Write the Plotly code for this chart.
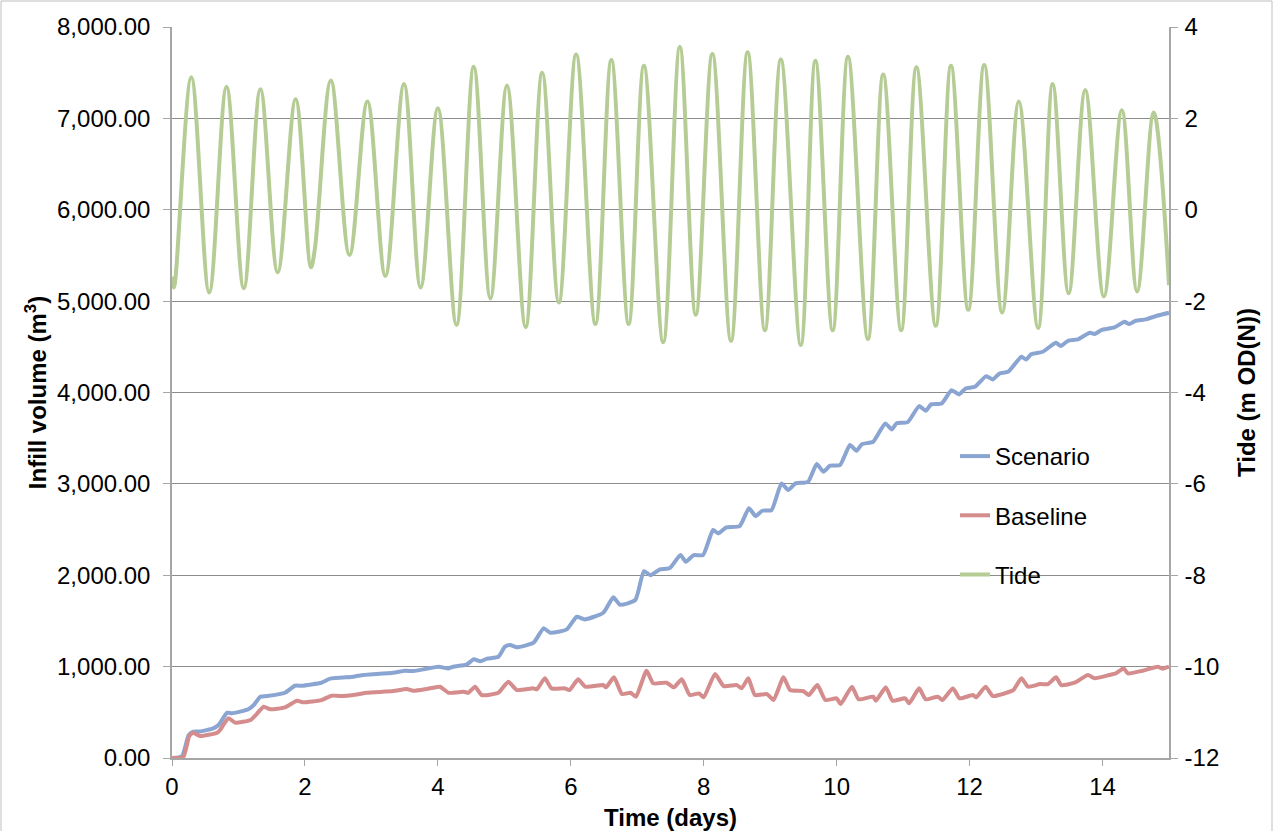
import plotly.graph_objects as go

# ---------------- data ----------------
tide_t = [0, 0.03, 0.29, 0.56, 0.82, 1.08, 1.33, 1.59, 1.86, 2.09, 2.15, 2.39, 2.67, 2.94,
          3.21, 3.49, 3.74, 4.00, 4.28, 4.54, 4.79, 5.04, 5.32, 5.57, 5.82, 6.08, 6.37,
          6.61, 6.87, 7.10, 7.39, 7.64, 7.88, 8.13, 8.41, 8.66, 8.92, 9.16, 9.46, 9.68,
          9.94, 10.17, 10.47, 10.70, 10.97, 11.20, 11.49, 11.72, 11.98, 12.22, 12.49,
          12.74, 13.03, 13.25, 13.49, 13.74, 14.02, 14.29, 14.52, 14.77, 15.0]
tide_v = [-1.46, -1.70, 2.90, -1.81, 2.69, -1.72, 2.64, -1.37, 2.42, -1.26, -0.85, 2.83,
          -0.99, 2.37, -1.45, 2.75, -1.70, 2.22, -2.52, 3.13, -1.94, 2.72, -2.57, 3.00,
          -2.03, 3.40, -2.50, 3.28, -2.50, 3.15, -2.90, 3.56, -2.30, 3.41, -2.87, 3.45,
          -2.64, 3.29, -2.96, 3.26, -2.64, 3.35, -2.83, 2.96, -2.64, 3.12, -2.54, 3.15,
          -2.19, 3.17, -2.25, 2.37, -2.59, 2.75, -1.83, 2.62, -1.90, 2.18, -1.79, 2.13,
          -1.65]

scenario_t = [0, 0.15, 0.25, 0.32, 0.42, 0.62, 0.70, 0.83, 0.90, 1.15, 1.23, 1.33, 1.43,
              1.70, 1.85, 1.95, 2.25, 2.38, 2.73, 2.83, 3.33, 3.51, 3.63, 3.83, 4.01, 4.16,
              4.23, 4.43, 4.54, 4.64, 4.74, 4.91, 5.01, 5.09, 5.19, 5.44, 5.59, 5.69, 5.94,
              6.09, 6.21, 6.49, 6.64, 6.74, 6.97, 7.10, 7.20, 7.34, 7.49, 7.65, 7.73, 7.85,
              7.99, 8.14, 8.22, 8.34, 8.54, 8.68, 8.78, 8.88, 9.02, 9.17, 9.27, 9.38, 9.57,
              9.70, 9.80, 9.90, 10.05, 10.20, 10.30, 10.38, 10.55, 10.73, 10.83, 10.90,
              11.07, 11.24, 11.34, 11.42, 11.58, 11.73, 11.84, 11.94, 12.08, 12.25, 12.35,
              12.45, 12.58, 12.78, 12.85, 12.93, 13.10, 13.30, 13.37, 13.48, 13.63, 13.81,
              13.88, 13.98, 14.18, 14.33, 14.40, 14.50, 14.65, 14.82, 15.0]
scenario_v = [0, 20, 250, 288, 290, 325, 361, 496, 490, 533, 580, 671, 678, 714, 791, 791,
              824, 868, 890, 904, 933, 955, 951, 977, 999, 980, 999, 1021, 1080, 1058, 1087,
              1108, 1218, 1236, 1211, 1262, 1419, 1371, 1408, 1546, 1517, 1590, 1758, 1677,
              1729, 2045, 2000, 2064, 2079, 2221, 2148, 2221, 2221, 2495, 2458, 2524, 2538,
              2732, 2648, 2706, 2713, 3005, 2932, 3005, 3023, 3217, 3133, 3199, 3206, 3425,
              3363, 3435, 3461, 3662, 3596, 3662, 3676, 3851, 3800, 3870, 3880, 4026, 3979,
              4044, 4063, 4179, 4143, 4208, 4226, 4391, 4361, 4420, 4446, 4544, 4508, 4566,
              4581, 4654, 4639, 4683, 4712, 4774, 4749, 4785, 4800, 4840, 4872]

baseline_t = [0, 0.17, 0.26, 0.32, 0.42, 0.68, 0.72, 0.85, 0.95, 1.18, 1.26, 1.38, 1.48,
              1.70, 1.88, 1.98, 2.25, 2.40, 2.53, 2.78, 2.93, 3.33, 3.53, 3.63, 3.83, 4.03,
              4.16, 4.39, 4.46, 4.56, 4.66, 4.91, 5.06, 5.19, 5.44, 5.49, 5.61, 5.71, 5.91,
              5.98, 6.11, 6.22, 6.49, 6.53, 6.65, 6.77, 6.90, 6.98, 7.14, 7.24, 7.44, 7.55,
              7.67, 7.79, 7.93, 8.00, 8.17, 8.30, 8.50, 8.57, 8.67, 8.77, 8.95, 9.05, 9.20,
              9.30, 9.50, 9.58, 9.71, 9.83, 10.00, 10.06, 10.23, 10.33, 10.55, 10.59, 10.74,
              10.84, 11.03, 11.09, 11.24, 11.34, 11.52, 11.59, 11.75, 11.85, 12.05, 12.10,
              12.24, 12.35, 12.60, 12.66, 12.78, 12.88, 13.06, 13.18, 13.30, 13.38, 13.58,
              13.78, 13.88, 14.10, 14.20, 14.32, 14.38, 14.60, 14.83, 14.90, 15.0]
baseline_v = [0, 10, 241, 277, 241, 277, 304, 434, 387, 416, 470, 561, 533, 554, 627, 609,
              634, 682, 678, 696, 714, 733, 755, 736, 755, 780, 714, 725, 714, 780, 689, 714,
              835, 744, 762, 751, 872, 762, 762, 744, 861, 780, 798, 773, 883, 700, 714, 671,
              955, 817, 824, 773, 861, 689, 707, 664, 919, 787, 798, 762, 872, 689, 700, 635,
              883, 744, 733, 689, 798, 635, 653, 591, 780, 642, 671, 627, 773, 627, 653, 598,
              762, 642, 671, 635, 762, 653, 689, 664, 780, 678, 725, 744, 872, 780, 809, 809,
              883, 798, 824, 908, 872, 908, 926, 981, 926, 955, 999, 977, 999]

x_ticks = [0, 2, 4, 6, 8, 10, 12, 14]
vol_ticks = [0, 1000, 2000, 3000, 4000, 5000, 6000, 7000, 8000]
tide_ticks = [-12, -10, -8, -6, -4, -2, 0, 2, 4]
tide_tick_text = ["-12", "-10", "-8", "-6", "-4", "-2", "0", "2", "4"]

# ---------------- styles ----------------
FONT = "Liberation Sans, Arial, sans-serif"
GRID = "#8C8C8C"
AXIS = "#A6A6A6"
C_SCEN = "#8AA5D2"
C_BASE = "#D48C8C"
C_TIDE = "#B5CC95"

fig = go.Figure()
fig.add_trace(go.Scatter(x=scenario_t, y=scenario_v, name="Scenario", mode="lines",
                         line=dict(color=C_SCEN, width=4, shape="spline", smoothing=0.5),
                         legendgroup="a"))
fig.add_trace(go.Scatter(x=baseline_t, y=baseline_v, name="Baseline", mode="lines",
                         line=dict(color=C_BASE, width=4, shape="spline", smoothing=0.5),
                         legendgroup="b"))
fig.add_trace(go.Scatter(x=tide_t, y=tide_v, name="Tide", mode="lines", yaxis="y2",
                         line=dict(color=C_TIDE, width=4, shape="spline", smoothing=1.0),
                         legendgroup="c"))

W, H = 1274, 831
L, R, T, B = 172, 1169, 27, 758
pw, ph = R - L, B - T

fig.update_layout(
    width=W, height=H,
    margin=dict(l=L, r=W - R, t=T, b=H - B, autoexpand=False),
    paper_bgcolor="white", plot_bgcolor="white",
    font=dict(family=FONT, size=24, color="black"),
    showlegend=True,
    legend=dict(x=(955 - L) / pw, y=(B - 434) / ph, xanchor="left", yanchor="top",
                bgcolor="rgba(0,0,0,0)", font=dict(size=24, family=FONT),
                tracegroupgap=25, traceorder="grouped", itemwidth=30),
    xaxis=dict(range=[0, 15], tickvals=x_ticks, showgrid=False, zeroline=False,
               showline=True, linecolor=AXIS, linewidth=1.5, ticks="outside", ticklen=6,
               tickcolor=AXIS, tickfont=dict(size=24, family=FONT),
               title=dict(text="<b>Time (days)</b>", font=dict(size=24, family=FONT),
                          standoff=11)),
    yaxis=dict(range=[0, 8000], tickvals=vol_ticks, tickformat=",.2f", showgrid=True,
               gridcolor=GRID, gridwidth=1, zeroline=False, showline=True, linecolor=AXIS,
               linewidth=1.5, ticks="outside", ticklen=7, tickcolor=AXIS,
               tickfont=dict(size=24, family=FONT), ticklabelstandoff=8,
               title=dict(text="<b>Infill volume (m<sup>3</sup>)</b>",
                          font=dict(size=24, family=FONT), standoff=4)),
    yaxis2=dict(range=[-12, 4], tickvals=tide_ticks, ticktext=tide_tick_text,
                overlaying="y", side="right", showgrid=False, zeroline=False,
                showline=True, linecolor=AXIS, linewidth=1.5, ticks="outside", ticklen=7,
                tickcolor=AXIS, tickfont=dict(size=24, family=FONT), ticklabelstandoff=2,
                title=dict(text="<b>Tide (m OD(N))</b>", font=dict(size=24, family=FONT),
                           standoff=20)),
)

# outer chart-area border
fig.add_shape(type="rect", xref="paper", yref="paper",
              x0=(1 - L) / pw, x1=(1272 - L) / pw, y0=(B - 845) / ph, y1=(B - 1) / ph,
              line=dict(color="#BFBFBF", width=1), fillcolor="rgba(0,0,0,0)", layer="below")

fig.write_html("out.html", config={"displayModeBar": False},
               post_script="document.body.style.margin='0px';document.body.style.overflow='hidden';")
